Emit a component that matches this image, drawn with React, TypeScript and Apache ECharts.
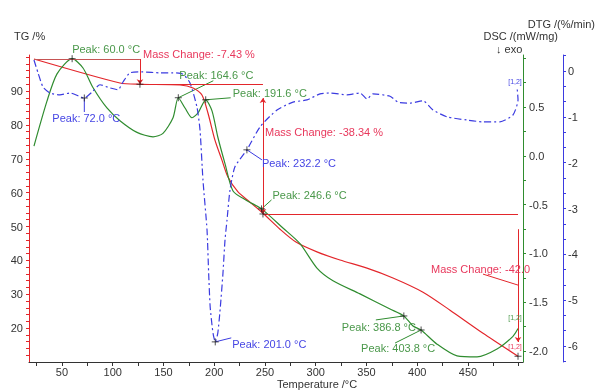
import React, { useEffect, useRef } from 'react';
import * as echarts from 'echarts';

// ---- data (temperature °C, value) ----
const tgData: [number, number][] = [
  [22.4, 99.45], [107.1, 92.36], [126.8, 91.98], [166.3, 91.77], [179.1, 90.89],
  [187.9, 88.82], [193.8, 83.5], [200.7, 75.5], [207.6, 69.6], [213.5, 64.6],
  [223.4, 60.2], [235.2, 57.2], [248.0, 53.9], [264.8, 49.2], [280.5, 45.4],
  [301.2, 42.5], [323.9, 40.1], [350.5, 37.7], [376.1, 34.8], [405.7, 30.6],
  [432.3, 25.3], [464.8, 18.5], [499.3, 11.7],
];

const dscData: [number, number][] = [
  [22.4, 0.10], [35.2, 0.56], [45.1, 0.84], [60.0, 0.995], [70.7, 0.90],
  [80.5, 0.70], [94.3, 0.49], [107.1, 0.36], [123.9, 0.24], [139.7, 0.195],
  [149.5, 0.23], [159.4, 0.39], [164.6, 0.595], [171.2, 0.49], [178.1, 0.39],
  [184.0, 0.44], [191.6, 0.574], [197.8, 0.46], [203.7, 0.185], [210.6, -0.08],
  [218.5, -0.36], [232.3, -0.46], [246.6, -0.544], [267.7, -0.74], [284.5, -0.90],
  [301.2, -1.15], [317.0, -1.28], [343.6, -1.415], [373.2, -1.57], [386.8, -1.641],
  [395.8, -1.744], [403.8, -1.785], [419.5, -1.93], [439.2, -2.05], [458.9, -2.06],
  [478.6, -1.98], [494.3, -1.85], [499.3, -1.77],
];

const dtgData: [number, number][] = [
  [22.4, 0.24], [26.4, -0.04], [31.3, -0.35], [38.2, -0.48], [48.0, -0.52],
  [57.9, -0.48], [72.0, -0.589], [79.6, -0.46], [87.4, -0.30], [97.3, -0.37],
  [105.2, -0.41], [110.1, -0.24], [117.0, -0.04], [129.8, -0.02], [146.6, -0.04],
  [159.4, -0.04], [169.2, -0.07], [176.1, -0.26], [183.0, -0.79], [186.0, -1.29],
  [188.9, -2.38], [192.9, -3.47], [194.5, -4.41], [196.0, -5.15], [198.8, -5.72],
  [201.0, -5.91], [203.5, -5.72], [206.0, -5.15], [208.6, -4.41], [210.6, -3.69],
  [212.6, -3.25], [215.5, -2.60], [220.4, -2.09], [232.2, -1.72], [245.1, -1.22],
  [261.8, -0.85], [277.6, -0.68], [291.4, -0.63], [304.2, -0.50], [314.0, -0.48],
  [330.8, -0.52], [343.6, -0.48], [350.5, -0.61], [356.4, -0.50], [373.2, -0.55],
  [381.0, -0.68], [392.9, -0.70], [405.7, -0.65], [415.5, -0.85], [429.3, -1.00],
  [449.0, -1.07], [464.8, -1.11], [481.5, -1.11], [494.3, -0.96], [499.3, -0.63],
  [498.3, -0.35],
];

const dscPeaks: [number, number][] = [
  [60.0, 0.995], [164.6, 0.595], [191.6, 0.574], [246.6, -0.544], [386.8, -1.641], [403.8, -1.785],
];
const dtgPeaks: [number, number][] = [[72.0, -0.589], [232.2, -1.72], [201.0, -5.91]];

// mass-change step points [T, TG]
const massSteps: [number, number][] = [[22.4, 99.45], [126.8, 92.0], [248.0, 53.7], [499.3, 11.7]];
const massChanges = ['-7.43 %', '-38.34 %', '-42.0'];

const xLabels = [50, 100, 150, 200, 250, 300, 350, 400, 450];
const tgLabels = [20, 30, 40, 50, 60, 70, 80, 90];
const dscLabels = [-2.0, -1.5, -1.0, -0.5, 0.0, 0.5];
const dtgLabels = [-6, -5, -4, -3, -2, -1, 0];

const RED = '#e3262b';
const RED_T = '#e8385c';
const GREEN = '#2f8c2f';
const GREEN_T = '#4a984a';
const BLUE = '#3b3be0';
const BLUE_T = '#4646e4';
const FONT = '11px "Liberation Sans", Arial, sans-serif';

export default function App() {
  const ref = useRef<HTMLDivElement>(null);
  useEffect(() => {
    if (!ref.current) return;
    document.body.style.margin = '0';
    const chart = echarts.init(ref.current, null, { renderer: 'svg' });

    const range = (a: number, b: number, s: number) => {
      const r: number[] = [];
      for (let v = a; v <= b + 1e-9; v += s) r.push(Math.round(v * 1000) / 1000);
      return r;
    };

    const plus = 'path://M0,5L10,5M5,0L5,10';
    const txt = (x: number, y: number, text: string, fill: string, extra: any = {}) => ({
      type: 'text', x, y, silent: true, z: 10,
      style: { text, fill, font: FONT, verticalAlign: 'middle', ...extra },
    });

    const [s0, s1, s2, s3] = massSteps;
    const option: any = {
      animation: false,
      grid: { left: 29, right: 77, top: 55, bottom: 30 },
      xAxis: {
        type: 'value', min: 17.5, max: 504.2,
        axisLine: { show: true, onZero: false, lineStyle: { color: '#333' } },
        axisTick: { show: true, length: 4, lineStyle: { color: '#333' }, customValues: range(25, 500, 25) },
        axisLabel: { color: '#333', fontSize: 11, fontFamily: 'Liberation Sans', margin: 4, customValues: xLabels },
        splitLine: { show: false },
      },
      yAxis: [
        {
          type: 'value', min: 10, max: 100.63, position: 'left',
          axisLine: { show: true, onZero: false, lineStyle: { color: RED } },
          axisTick: { show: true, length: 3, lineStyle: { color: RED }, customValues: range(12, 100, 2) },
          axisLabel: { color: '#333', fontSize: 11, fontFamily: 'Liberation Sans', margin: 6, customValues: tgLabels },
          splitLine: { show: false },
        },
        {
          type: 'value', min: -2.113, max: 1.033, position: 'right', offset: 0,
          axisLine: { show: true, onZero: false, lineStyle: { color: GREEN } },
          axisTick: { show: true, length: 3, lineStyle: { color: GREEN }, customValues: range(-2.0, 1.0, 0.25) },
          axisLabel: {
            color: '#333', fontSize: 11, fontFamily: 'Liberation Sans', margin: 6, customValues: dscLabels,
            formatter: (v: number) => v.toFixed(1),
          },
          splitLine: { show: false },
        },
        {
          type: 'value', min: -6.349, max: 0.349, position: 'right', offset: 40,
          axisLine: { show: true, onZero: false, lineStyle: { color: BLUE } },
          axisTick: { show: true, length: 3, lineStyle: { color: BLUE }, customValues: range(-6.333, 0.334, 1 / 3) },
          axisLabel: { color: '#333', fontSize: 11, fontFamily: 'Liberation Sans', margin: 5, customValues: dtgLabels },
          splitLine: { show: false },
        },
      ],
      series: [
        {
          name: 'TG', type: 'line', yAxisIndex: 0, data: tgData, showSymbol: false, smooth: 0.25,
          lineStyle: { color: RED, width: 1.2 }, itemStyle: { color: RED }, z: 3,
          markLine: {
            silent: true, symbol: ['none', 'none'], symbolSize: 5, label: { show: false },
            lineStyle: { color: RED, type: 'solid', width: 1 },
            data: [
              [{ coord: [s0[0], s0[1]], lineStyle: { color: '#c65454' } }, { coord: [s1[0], s0[1]] }],
              [{ coord: [s1[0], s0[1]] }, { coord: [s1[0], s1[1]], symbol: 'arrow' }],
              [{ coord: [s1[0], s1[1]] }, { coord: [s2[0], s1[1]] }],
              [{ coord: [s2[0], 87.9], symbol: 'arrow' }, { coord: [s2[0], s2[1]], symbol: 'arrow' }],
              [{ coord: [s2[0], s2[1]] }, { coord: [s3[0], s2[1]] }],
              [{ coord: [s3[0], 49.2] }, { coord: [s3[0], 15.9], symbol: 'arrow' }],
              [{ coord: [464.8, 35.95] }, { coord: [s3[0], 32.7] }],
            ],
          },
        },
        {
          name: 'DSC', type: 'line', yAxisIndex: 1, data: dscData, showSymbol: false, smooth: 0.25,
          lineStyle: { color: GREEN, width: 1.2 }, z: 3,
        },
        {
          name: 'DTG', type: 'line', yAxisIndex: 2, data: dtgData, showSymbol: false, smooth: 0.2,
          lineStyle: { color: BLUE, width: 1.2, type: [7, 3, 2, 3] }, z: 3,
        },
        {
          type: 'scatter', yAxisIndex: 0, data: massSteps.slice(1), symbol: plus, symbolSize: 7,
          itemStyle: { color: 'transparent', borderColor: '#222', borderWidth: 1 }, z: 5,
        },
        {
          type: 'scatter', yAxisIndex: 1, data: dscPeaks, symbol: plus, symbolSize: 7,
          itemStyle: { color: 'transparent', borderColor: '#222', borderWidth: 1 }, z: 5,
        },
        {
          type: 'scatter', yAxisIndex: 2, data: dtgPeaks, symbol: plus, symbolSize: 7,
          itemStyle: { color: 'transparent', borderColor: '#222', borderWidth: 1 }, z: 5,
        },
      ],
      graphic: [
        txt(14, 36, 'TG /%', '#333'),
        txt(558, 36, 'DSC /(mW/mg)', '#333', { align: 'right' }),
        txt(496, 49, '↓ exo', '#333'),
        txt(595, 24, 'DTG /(%/min)', '#333', { align: 'right' }),
        txt(277, 384, 'Temperature /°C', '#333'),
        txt(143, 54, 'Mass Change: ' + massChanges[0], RED_T),
        txt(265, 132, 'Mass Change: ' + massChanges[1], RED_T),
        txt(431, 269, 'Mass Change: ' + massChanges[2], RED_T),
        txt(515, 81, '[1,2]', BLUE_T, { font: '7px "Liberation Sans", Arial, sans-serif', align: 'center' }),
        txt(515, 317, '[1,2]', GREEN_T, { font: '7px "Liberation Sans", Arial, sans-serif', align: 'center' }),
        txt(515, 346, '[1,2]', RED_T, { font: '7px "Liberation Sans", Arial, sans-serif', align: 'center' }),
      ],
    };
    chart.setOption(option);

    // peak labels placed relative to the peak pixel positions
    const dscOffsets = [
      { dx: 0, dy: -10, lx: 0, ly: 0 },
      { dx: 1, dy: -23, lx: 35, ly: -17 },
      { dx: 27, dy: -7, lx: 25, ly: -2 },
      { dx: 11, dy: -14, lx: 10, ly: -9 },
      { dx: -62, dy: 11, lx: -28, ly: 4 },
      { dx: -60, dy: 18, lx: -26, ly: 13 },
    ];
    const dtgOffsets = [
      { dx: -32, dy: 20, lx: 0, ly: 14 },
      { dx: 15, dy: 13, lx: 15, ly: 10 },
      { dx: 17, dy: 2, lx: 16, ly: -4 },
    ];
    const extra: any[] = [];
    const addPeaks = (peaks: [number, number][], axis: number, offs: any[], color: string, lineColor: string) => {
      peaks.forEach((p, i) => {
        const pt = chart.convertToPixel({ xAxisIndex: 0, yAxisIndex: axis } as any, p) as number[];
        if (!pt) return;
        const o = offs[i];
        if (o.lx || o.ly) {
          extra.push({
            type: 'line', silent: true,
            shape: { x1: pt[0], y1: pt[1], x2: pt[0] + o.lx, y2: pt[1] + o.ly },
            style: { stroke: lineColor, lineWidth: 1 },
          });
        }
        extra.push(txt(pt[0] + o.dx, pt[1] + o.dy, `Peak: ${p[0].toFixed(1)} °C`, color));
      });
    };
    addPeaks(dscPeaks, 1, dscOffsets, GREEN_T, GREEN);
    addPeaks(dtgPeaks, 2, dtgOffsets, BLUE_T, BLUE);
    chart.setOption({ graphic: [...option.graphic, ...extra] });

    return () => chart.dispose();
  }, []);
  return <div ref={ref} style={{ position: 'fixed', left: 0, top: 0, width: 600, height: 392 }} />;
}
